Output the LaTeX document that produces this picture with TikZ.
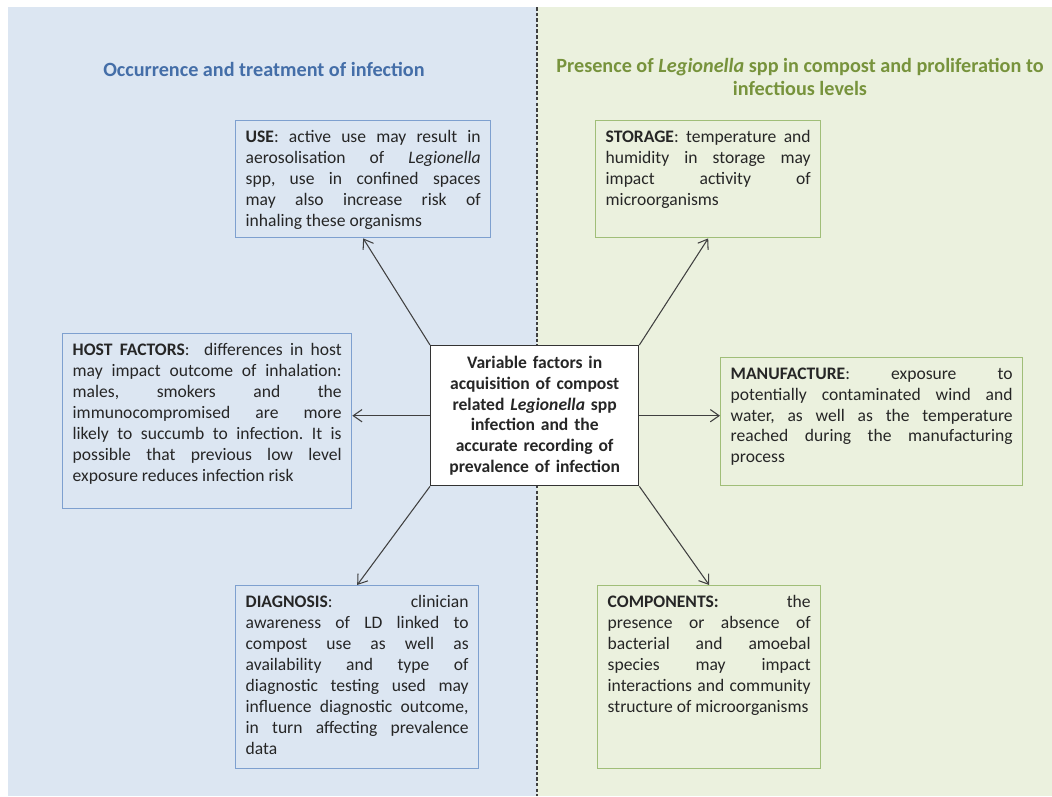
\documentclass[tikz,border=0pt]{standalone}
\usepackage{fontspec}
\setmainfont{Carlito}
\usepackage{xcolor}
\usetikzlibrary{positioning, calc, arrows.meta}
\definecolor{leftbg}{RGB}{220,230,242}
\definecolor{rightbg}{RGB}{235,241,222}
\definecolor{lefthead}{RGB}{68,110,168}
\definecolor{righthead}{RGB}{119,147,60}
\definecolor{leftline}{RGB}{126,160,207}
\definecolor{rightline}{RGB}{160,190,120}
\definecolor{arrowgrey}{RGB}{64,64,64}
\frenchspacing
\newcommand{\boxtext}[3]{\parbox[t][#2][t]{#1}{\tolerance=10000\hbadness=10000\hyphenpenalty=10000#3}}

\begin{document}
\begin{tikzpicture}[x=0.02cm,y=-0.02cm,
    every node/.style={font=\fontsize{10}{11.9}\selectfont, text=black!85},
    leftbox/.style={draw=leftline, line width=0.8pt, fill=leftbg, inner sep=0.2cm, anchor=north west},
    rightbox/.style={draw=rightline, line width=0.8pt, fill=rightbg, inner sep=0.2cm, anchor=north west},
    centrebox/.style={draw=black!80, line width=0.8pt, fill=white, minimum width=4.16cm, minimum height=2.8cm, text width=3.9cm, align=center, font=\fontsize{10}{11.9}\selectfont\bfseries},
    heading/.style={font=\fontsize{11.5}{13.6}\selectfont\bfseries, align=center},
    conn/.style={-{Straight Barb[length=5pt,width=7pt]}, draw=arrowgrey, line width=0.6pt}]
  \useasboundingbox (0,0) rectangle (1052,796);
  \fill[leftbg] (8,7) rectangle (537,796);%left half
  \fill[rightbg] (537,7) rectangle (1052,796);%right half
  \draw[black!75, line width=0.8pt, dash pattern=on 2pt off 1.2pt] (537,7) -- (537,796);

  \node[heading, text=lefthead] (lhead) at (264,69) {Occurrence and treatment of infection};
  \node[heading, text=righthead] (rhead) at (800,77) {Presence of \textit{Legionella} spp in compost and proliferation to\\ infectious levels};

  \node[centrebox, anchor=north west] (centre) at (430,345) {Variable factors in\\ acquisition of compost\\ related \textit{Legionella} spp\\ infection and the\\ accurate recording of\\ prevalence of infection};

  \node[leftbox] (use) at (235,120) {\boxtext{4.70cm}{1.94cm}{\textbf{USE}: active use may result in\linebreak aerosolisation of \textit{Legionella}\linebreak spp, use in confined spaces\linebreak may also increase risk of\linebreak inhaling these organisms}};
  \node[leftbox] (host) at (62,333) {\boxtext{5.38cm}{3.10cm}{\textbf{HOST FACTORS}:\ \ differences in host\linebreak may impact outcome of inhalation:\linebreak males, smokers and the\linebreak immunocompromised are more\linebreak likely to succumb to infection. It is\linebreak possible that previous low level\linebreak exposure reduces infection risk}};
  \node[leftbox] (diag) at (235,585) {\boxtext{4.46cm}{3.26cm}{\textbf{DIAGNOSIS}: clinician\linebreak awareness of LD linked to\linebreak compost use as well as\linebreak availability and type of\linebreak diagnostic testing used may\linebreak influence diagnostic outcome,\linebreak in turn affecting prevalence\linebreak data}};

  \node[rightbox] (storage) at (595,120) {\boxtext{4.10cm}{1.94cm}{\textbf{STORAGE}: temperature and\linebreak humidity in storage may\linebreak impact activity of\linebreak microorganisms}};
  \node[rightbox] (manu) at (720,357) {\boxtext{5.64cm}{2.16cm}{\textbf{MANUFACTURE}: exposure to\linebreak potentially contaminated wind and\linebreak water, as well as the temperature\linebreak reached during the manufacturing\linebreak process}};
  \node[rightbox] (comp) at (597,585) {\boxtext{4.06cm}{3.26cm}{\textbf{COMPONENTS:} the\linebreak presence or absence of\linebreak bacterial and amoebal\linebreak species may impact\linebreak interactions and community\linebreak structure of microorganisms}};

  \draw[conn] (centre.north west) -- (use.south);
  \draw[conn] (centre.west) -- (centre.west -| host.east);
  \draw[conn] (centre.south west) -- (diag.north);
  \draw[conn] (centre.north east) -- (storage.south);
  \draw[conn] (centre.east) -- (centre.east -| manu.west);
  \draw[conn] (centre.south east) -- (comp.north);
\end{tikzpicture}
\end{document}
